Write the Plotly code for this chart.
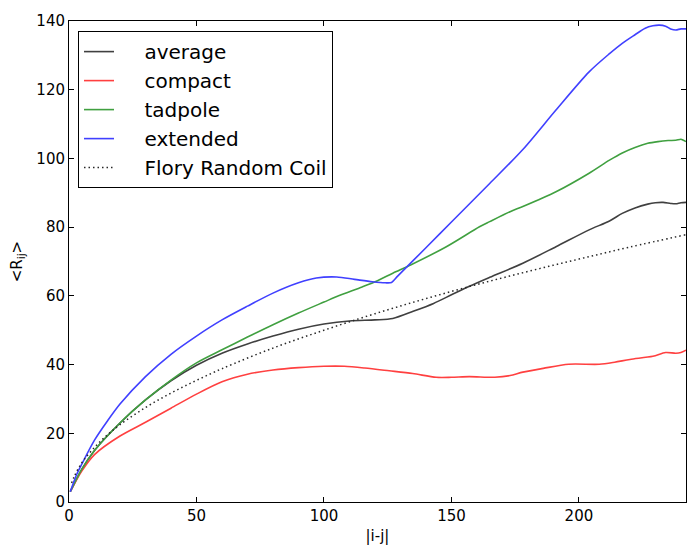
import plotly.graph_objects as go

# ---- data ----
avg_x = [0.5, 5, 10, 20, 30, 40, 50, 60, 70, 80, 90, 100, 110, 120, 127, 135, 143, 150, 157, 165,
         178, 191, 204, 212, 217, 222, 227, 230, 233, 236, 238, 240, 242]
avg_y = [3, 9.5, 15, 23, 29.7, 35.3, 39.8, 43.3, 46, 48.3, 50.3, 51.8, 52.7, 53.0, 53.4, 55.5, 57.8, 60.3, 62.8, 65.4,
         69.5, 74.3, 79.2, 81.8, 84, 85.6, 86.7, 87.1, 87.2, 86.9, 86.8, 87.1, 87.2]

cmp_x = [0.5, 5, 10, 20, 30, 40, 50, 60, 70, 80, 90, 100, 108, 116, 125.6, 134.8, 144, 150, 157,
         167, 173, 178, 186, 196, 208, 214, 220, 229, 234, 238, 240, 242]
cmp_y = [3, 9, 13.8, 19.2, 23.2, 27.3, 31.4, 35.0, 37.2, 38.4, 39.1, 39.5, 39.5, 39.0, 38.2, 37.4, 36.3, 36.3, 36.5,
         36.3, 36.8, 37.8, 38.9, 40.1, 40.1, 40.7, 41.5, 42.4, 43.5, 43.3, 43.5, 44.2]

tad_x = [0.5, 5, 10, 20, 30, 40, 50, 60, 70, 80, 90, 100, 106, 115, 121, 127, 134, 148, 161, 165,
         173, 178, 191, 204, 212, 217, 222, 227, 231, 235, 238, 240, 241, 242]
tad_y = [3, 9.5, 15, 23, 29.7, 35.5, 40.5, 44.3, 48, 51.6, 55, 58.2, 60.1, 62.6, 64.4, 66.6, 69, 74.3, 80.1, 81.6,
         84.5, 86.0, 90.3, 95.7, 99.5, 101.6, 103.2, 104.4, 104.9, 105.2, 105.3, 105.6, 105.3, 104.9]

ext_x = [0.5, 3, 5, 10, 15, 20, 30, 40, 50, 60, 70, 80, 90, 97, 105, 112, 119, 124, 126.5, 129,
         140, 150, 165, 178, 191, 204, 212, 217, 222, 226, 229, 231.5, 234, 236, 238, 240, 242]
ext_y = [3, 8, 11, 18, 23.5, 28.5, 36.5, 43, 48.3, 53, 57, 60.8, 63.8, 65.2, 65.5, 64.8, 64.1, 63.8, 63.9, 65.8,
         74, 81.5, 92.7, 102.6, 114.1, 125.2, 130.5, 133.5, 136, 137.9, 138.6, 138.8, 138.5, 137.7, 137.4, 137.7, 137.7]

flory_x = [1, 2, 4, 6, 10, 15, 20, 30, 40, 50, 60, 80, 100, 120, 140, 160, 180, 200, 220, 242]
flory_y = [5.5, 7.3, 10.2, 12.4, 15.9, 19.5, 22.5, 27.5, 31.7, 35.4, 38.8, 44.8, 50, 54.8, 59.2, 63.3, 67.1, 70.7, 74.2, 77.8]

x_ticks = [0, 50, 100, 150, 200]
y_ticks = [0, 20, 40, 60, 80, 100, 120, 140]

FONT = "DejaVu Sans"
PAD = "\u00a0\u00a0\u00a0\u00a0"

series = [
    ("average", avg_x, avg_y, "rgb(64,64,64)"),
    ("compact", cmp_x, cmp_y, "rgb(255,64,64)"),
    ("tadpole", tad_x, tad_y, "rgb(64,160,64)"),
    ("extended", ext_x, ext_y, "rgb(64,64,255)"),
]

fig = go.Figure()
for i, (name, xs, ys, col) in enumerate(series):
    fig.add_trace(go.Scatter(x=xs, y=ys, mode="lines", name=PAD + name,
                             legendgroup=f"g{i}",
                             line=dict(color=col, width=1.6, shape="spline", smoothing=0.8)))
fig.add_trace(go.Scatter(x=flory_x, y=flory_y, mode="lines", name=PAD + "Flory Random Coil",
                         legendgroup="g4",
                         line=dict(color="rgb(40,40,40)", width=1.5, dash="1.5px,3px", shape="spline")))

axis_common = dict(showline=True, linecolor="black", linewidth=1, mirror="ticks",
                   ticks="inside", ticklen=5, tickcolor="black", showgrid=False, zeroline=False,
                   tickfont=dict(family=FONT, size=15, color="black"))

fig.update_layout(
    width=688, height=545,
    margin=dict(l=69, r=2, t=21, b=43),
    paper_bgcolor="white", plot_bgcolor="white",
    font=dict(family=FONT, color="black"),
    xaxis=dict(range=[0, 242], tickvals=x_ticks,
               title=dict(text="|i-j|", font=dict(family=FONT, size=15), standoff=8),
               **axis_common),
    yaxis=dict(range=[0, 140], tickvals=y_ticks,
               title=dict(text="&lt;R<sub>ij</sub>&gt;", font=dict(family=FONT, size=15), standoff=10),
               **axis_common),
    legend=dict(x=0.0146, y=0.979, xanchor="left", yanchor="top",
                bordercolor="black", borderwidth=1, bgcolor="white",
                font=dict(family=FONT, size=20, color="black"),
                tracegroupgap=0, itemwidth=30),
)

fig.write_html("out.html")
